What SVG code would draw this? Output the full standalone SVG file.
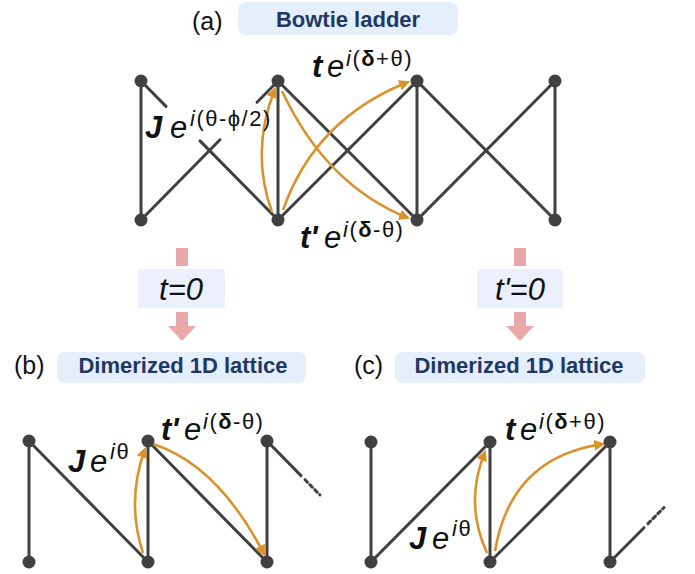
<svg xmlns="http://www.w3.org/2000/svg" width="695" height="574" viewBox="0 0 695 574">
<style>
.ln{stroke:#404040;stroke-width:3;fill:none;stroke-linecap:round}
.nd{fill:#404040}
.or{stroke:#d9922c;stroke-width:2.6;fill:none;marker-end:url(#ah)}
.tb{fill:#e4effb}
.tt{font-family:"Liberation Sans",Arial,sans-serif;font-weight:bold;font-size:22px;fill:#1f3864;text-anchor:middle}
.pl{font-family:"Liberation Sans",Arial,sans-serif;font-size:25px;fill:#111}
.pk{fill:#eaa8a8}
.cb{fill:#ebf0fc}
.m{font-family:"Liberation Sans",Arial,sans-serif;fill:#111}
.big{font-weight:bold;font-style:italic;font-size:31px}
.ee{font-style:italic;font-size:31px}
.sup{font-size:22px;letter-spacing:1.5px}
.it{font-style:italic}
.b{font-weight:bold}
.eq{font-family:"Liberation Sans",Arial,sans-serif;font-style:italic;font-size:31px;fill:#111;text-anchor:middle}
</style>
<defs>
<marker id="ah" viewBox="0 0 10 10" refX="8" refY="5" markerWidth="11" markerHeight="11" markerUnits="userSpaceOnUse" orient="auto">
<path d="M0,0 L10,5 L0,10 z" fill="#d9922c"/>
</marker>
</defs>
<rect width="695" height="574" fill="#fff"/>

<!-- titles -->
<g id="title-a">
<text class="pl" x="192" y="30">(a)</text>
<rect class="tb" x="238" y="2" width="220" height="33" rx="8"/>
<text class="tt" x="348" y="27">Bowtie ladder</text>
</g>
<g id="title-b">
<text class="pl" x="14" y="374">(b)</text>
<rect class="tb" x="57" y="352" width="249" height="31" rx="8"/>
<text class="tt" x="183" y="373">Dimerized 1D lattice</text>
</g>
<g id="title-c">
<text class="pl" x="354" y="374">(c)</text>
<rect class="tb" x="395" y="352" width="250" height="31" rx="8"/>
<text class="tt" x="519" y="373">Dimerized 1D lattice</text>
</g>

<!-- pink transitions -->
<g id="step-t">
<rect class="pk" x="176" y="248" width="12" height="18"/>
<rect class="cb" x="138" y="269" width="87" height="39" rx="3"/>
<text class="eq" x="181" y="300">t=0</text>
<path class="pk" d="M176,312 H188 V326 H196 L182,341 L168,326 H176 Z"/>
</g>
<g id="step-tp">
<rect class="pk" x="514" y="248" width="12" height="18"/>
<rect class="cb" x="477" y="269" width="86" height="39" rx="3"/>
<text class="eq" x="520" y="300">t'=0</text>
<path class="pk" d="M514,312 H526 V326 H534 L520,341 L506,326 H514 Z"/>
</g>

<!-- connectors -->
<g id="connectors">
<!-- (a) -->
<line class="ln" x1="141" y1="81" x2="141" y2="220"/>
<line class="ln" x1="278" y1="81" x2="278" y2="220"/>
<line class="ln" x1="417" y1="81" x2="417" y2="220"/>
<line class="ln" x1="555" y1="81" x2="555" y2="220"/>
<line class="ln" x1="141" y1="81" x2="166" y2="106.4"/>
<line class="ln" x1="200" y1="140.9" x2="278" y2="220"/>
<line class="ln" x1="141" y1="220" x2="220" y2="139.8"/>
<line class="ln" x1="257" y1="102.3" x2="278" y2="81"/>
<line class="ln" x1="278" y1="81" x2="417" y2="220"/>
<line class="ln" x1="278" y1="220" x2="417" y2="81"/>
<line class="ln" x1="417" y1="81" x2="555" y2="220"/>
<line class="ln" x1="417" y1="220" x2="555" y2="81"/>
<!-- (b) -->
<line class="ln" x1="29" y1="441" x2="29" y2="562"/>
<line class="ln" x1="148" y1="441" x2="148" y2="562"/>
<line class="ln" x1="267" y1="441" x2="267" y2="562"/>
<line class="ln" x1="29" y1="441" x2="148" y2="562"/>
<line class="ln" x1="148" y1="441" x2="267" y2="562"/>
<line class="ln" x1="267" y1="441" x2="301" y2="475.6"/>
<line class="ln" x1="305" y1="479.7" x2="320" y2="495" stroke-dasharray="3.5 3.5" stroke-linecap="butt"/>
<!-- (c) -->
<line class="ln" x1="371" y1="442" x2="371" y2="562"/>
<line class="ln" x1="490" y1="442" x2="490" y2="562"/>
<line class="ln" x1="610" y1="442" x2="610" y2="562"/>
<line class="ln" x1="371" y1="562" x2="490" y2="442"/>
<line class="ln" x1="490" y1="562" x2="610" y2="442"/>
<line class="ln" x1="610" y1="562" x2="644" y2="527.7"/>
<line class="ln" x1="648" y1="523.6" x2="664" y2="507.5" stroke-dasharray="3.5 3.5" stroke-linecap="butt"/>
<!-- orange hopping arrows -->
<path class="or" d="M272,212 Q250,151 275,89"/>
<path class="or" d="M283,210 Q315,119 408,82"/>
<path class="or" d="M282,91 Q326,185 408,218"/>
<path class="or" d="M143,553 Q126,501 145,449"/>
<path class="or" d="M153,444 Q218,465 264,554"/>
<path class="or" d="M487,553 Q464,503 485,452"/>
<path class="or" d="M495,551 Q511,457 603,444"/>
</g>

<!-- nodes -->
<g id="a1"><circle class="nd" cx="141" cy="81" r="6.5"/></g>
<g id="a2"><circle class="nd" cx="278" cy="81" r="6.5"/></g>
<g id="a3"><circle class="nd" cx="417" cy="81" r="6.5"/></g>
<g id="a4"><circle class="nd" cx="555" cy="81" r="6.5"/></g>
<g id="a5"><circle class="nd" cx="141" cy="220" r="6.5"/></g>
<g id="a6"><circle class="nd" cx="278" cy="220" r="6.5"/></g>
<g id="a7"><circle class="nd" cx="417" cy="220" r="6.5"/></g>
<g id="a8"><circle class="nd" cx="555" cy="220" r="6.5"/></g>
<g id="b1"><circle class="nd" cx="29" cy="441" r="6.5"/></g>
<g id="b2"><circle class="nd" cx="148" cy="441" r="6.5"/></g>
<g id="b3"><circle class="nd" cx="267" cy="441" r="6.5"/></g>
<g id="b4"><circle class="nd" cx="29" cy="562" r="6.5"/></g>
<g id="b5"><circle class="nd" cx="148" cy="562" r="6.5"/></g>
<g id="b6"><circle class="nd" cx="267" cy="562" r="6.5"/></g>
<g id="c1"><circle class="nd" cx="371" cy="442" r="6.5"/></g>
<g id="c2"><circle class="nd" cx="490" cy="442" r="6.5"/></g>
<g id="c3"><circle class="nd" cx="610" cy="442" r="6.5"/></g>
<g id="c4"><circle class="nd" cx="371" cy="562" r="6.5"/></g>
<g id="c5"><circle class="nd" cx="490" cy="562" r="6.5"/></g>
<g id="c6"><circle class="nd" cx="610" cy="562" r="6.5"/></g>

<!-- hopping labels -->
<g id="lab-a-t">
<text class="m"><tspan class="big" x="312" y="77">t</tspan><tspan class="ee" x="327" y="77">e</tspan><tspan class="sup" x="346" y="66"><tspan class="it">i</tspan>(<tspan class="b">δ</tspan>+θ)</tspan></text>
</g>
<g id="lab-a-tp">
<text class="m"><tspan class="big" x="300" y="248">t'</tspan><tspan class="ee" x="324" y="248">e</tspan><tspan class="sup" x="343" y="237"><tspan class="it">i</tspan>(<tspan class="b">δ</tspan>-θ)</tspan></text>
</g>
<g id="lab-a-J">
<text class="m"><tspan class="big" x="145" y="138" font-size="31">J</tspan><tspan class="ee" x="170" y="138" font-size="32">e</tspan><tspan class="sup" x="190" y="126" font-size="23" letter-spacing="0"><tspan class="it">i</tspan>(θ-ϕ/2)</tspan></text>
</g>
<g id="lab-b-J">
<text class="m"><tspan class="big" x="68" y="472" font-size="27">J</tspan><tspan class="ee" x="90" y="472" font-size="29">e</tspan><tspan class="sup" x="110" y="459" font-size="21"><tspan class="it">i</tspan>θ</tspan></text>
</g>
<g id="lab-b-tp">
<text class="m"><tspan class="big" x="161" y="440">t'</tspan><tspan class="ee" x="184" y="440">e</tspan><tspan class="sup" x="203" y="429"><tspan class="it">i</tspan>(<tspan class="b">δ</tspan>-θ)</tspan></text>
</g>
<g id="lab-c-t">
<text class="m"><tspan class="big" x="505" y="440">t</tspan><tspan class="ee" x="520" y="440">e</tspan><tspan class="sup" x="539" y="429"><tspan class="it">i</tspan>(<tspan class="b">δ</tspan>+θ)</tspan></text>
</g>
<g id="lab-c-J">
<text class="m"><tspan class="big" x="409" y="549" font-size="27">J</tspan><tspan class="ee" x="432" y="549" font-size="29">e</tspan><tspan class="sup" x="452" y="536" font-size="21"><tspan class="it">i</tspan>θ</tspan></text>
</g>
</svg>
